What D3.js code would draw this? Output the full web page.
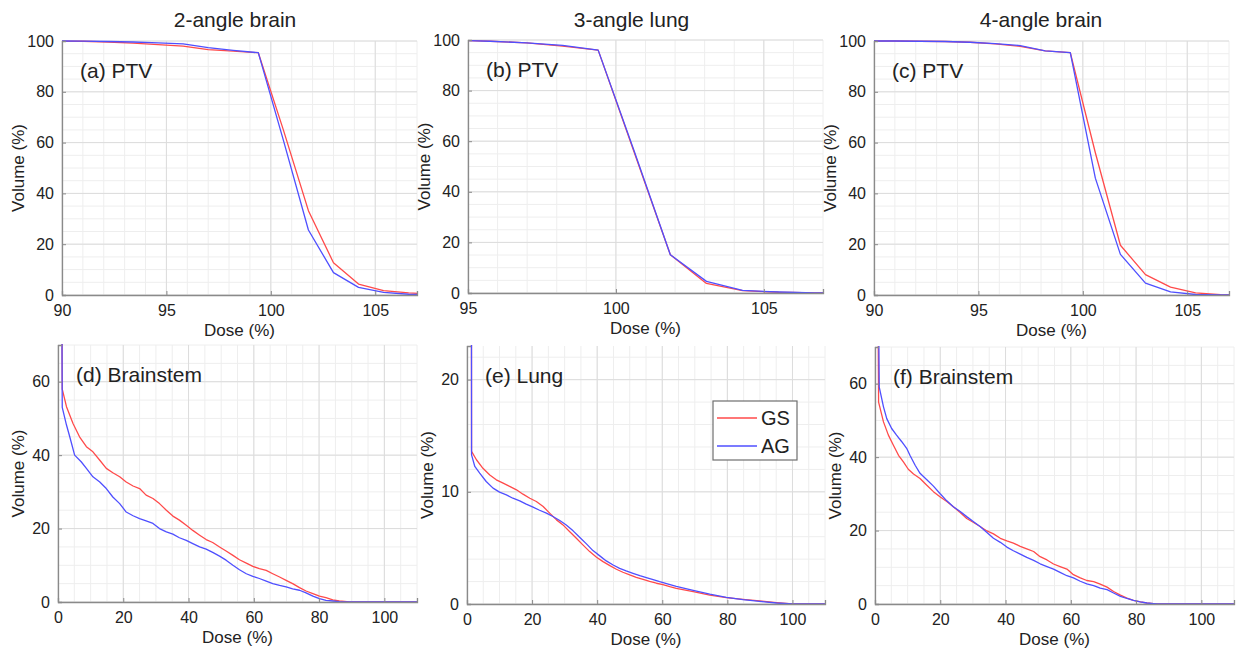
<!DOCTYPE html>
<html>
<head>
<meta charset="utf-8">
<script src="https://cdn.jsdelivr.net/npm/d3@7/dist/d3.min.js"></script>
<style>
  html, body { margin: 0; padding: 0; background: #fff; }
  svg { display: block; }
  text { font-family: "Liberation Sans", Arial, sans-serif; fill: #222; }
</style>
</head>
<body>
<svg id="chart" width="1242" height="658"></svg>
<script>
// ---------------- DATA ----------------
const seriesNames = ["GS", "AG"];
const columnTitles = ["2-angle brain", "3-angle lung", "4-angle brain"];
const panelLabels = ["(a) PTV", "(b) PTV", "(c) PTV", "(d) Brainstem", "(e) Lung", "(f) Brainstem"];

// (a) 2-angle brain PTV
const doseA = [89.8, 91.0, 92.2, 93.4, 94.6, 95.8, 97.0, 98.2, 99.4, 100.6, 101.8, 103.0, 104.2, 105.4, 106.6, 107.8];
const gsA   = [100, 99.9, 99.6, 99.2, 98.6, 98.0, 96.6, 96.0, 95.4, 65.0, 33.2, 12.7, 4.3, 1.7, 0.8, 0.4];
const agA   = [100, 99.95, 99.8, 99.6, 99.3, 98.9, 97.4, 96.3, 95.4, 61.0, 25.6, 8.8, 3.0, 1.0, 0.3, 0.1];

// (b) 3-angle lung PTV
const doseB = [94.54, 95.76, 96.98, 98.2, 99.4, 100.62, 101.84, 103.06, 104.28, 105.5, 106.72, 107.94];
const gsB   = [99.9, 99.5, 98.9, 97.6, 96.0, 55.5, 15.1, 3.8, 0.9, 0.3, 0.05, 0];
const agB   = [99.9, 99.5, 98.9, 97.9, 96.0, 56.0, 15.1, 4.6, 1.0, 0.4, 0.05, 0];

// (c) 4-angle brain PTV
const doseC = [89.8, 91.0, 92.2, 93.4, 94.6, 95.8, 97.0, 98.2, 99.4, 100.6, 101.8, 103.0, 104.2, 105.4, 106.6, 107.8];
const gsC   = [100, 100, 99.9, 99.8, 99.5, 98.9, 97.9, 96.1, 95.4, 56.0, 19.6, 8.0, 3.1, 0.8, 0.1, 0];
const agC   = [100, 100, 99.9, 99.8, 99.5, 99.0, 98.2, 96.1, 95.4, 46.0, 16.0, 4.7, 1.2, 0.2, 0.05, 0];

// (d) 2-angle brain, Brainstem
const doseDgs = [1.1, 1.3, 2.6, 4.6, 6.6, 8.7, 10.7, 12.8, 14.8, 16.8, 18.9, 20.9, 23, 25, 27, 29.1, 31.1, 33.2, 35.2, 37.2, 39.3, 41.3, 43.4, 45.4, 47.4, 49.5, 51.5, 53.6, 55.6, 57.7, 59.7, 61.7, 63.8, 65.8, 67.9, 69.9, 71.9, 74, 76, 78.1, 80.1, 82.1, 84.2, 86.2, 89.3, 110];
const gsD     = [100, 58.0, 53.2, 48.6, 45, 42.3, 40.9, 38.6, 36.4, 35.2, 34.1, 32.7, 31.6, 30.9, 29.1, 28.2, 26.8, 25, 23.4, 22.3, 20.9, 19.5, 18.2, 17.0, 16.2, 15, 13.9, 12.7, 11.5, 10.6, 9.7, 9.1, 8.6, 7.7, 6.8, 5.9, 5.0, 3.9, 3.0, 2.3, 1.6, 1.2, 0.6, 0.27, 0, 0];
const doseDag = [1.1, 1.3, 2.6, 3.6, 5.1, 7.1, 8.7, 10.7, 12.8, 14.8, 16.8, 18.9, 20.9, 23, 25, 27, 29.1, 31.1, 33.2, 35.2, 37.2, 39.3, 41.3, 43.4, 45.4, 47.4, 49.5, 51.5, 53.6, 55.6, 57.7, 59.7, 61.7, 63.8, 65.8, 67.9, 69.9, 71.9, 74, 76, 78.1, 80.1, 82.1, 84.2, 86.2, 88.3, 110];
const agD     = [100, 53.0, 48.2, 45, 40, 38.2, 36.4, 34.1, 32.7, 30.9, 28.6, 26.8, 24.5, 23.5, 22.7, 22.1, 21.4, 20, 19.1, 18.5, 17.5, 16.8, 15.9, 15, 14.4, 13.5, 12.5, 11.4, 10, 8.8, 7.7, 7.0, 6.4, 5.7, 5, 4.5, 4.1, 3.6, 3.2, 2.5, 1.6, 0.9, 0.45, 0.27, 0.1, 0, 0];

// (e) 3-angle lung, Lung
const doseEgs = [1.2, 1.4, 2.9, 4.9, 7.0, 9.0, 11.1, 13.1, 15.2, 17.2, 19.3, 21.3, 23.4, 25.4, 27.5, 29.5, 31.5, 33.6, 35.6, 37.7, 39.8, 41.8, 43.9, 45.9, 47.9, 50.0, 52.0, 54.1, 56.1, 58.2, 60.2, 62.3, 64.3, 69.5, 74.6, 79.7, 84.8, 89.9, 95.1, 100, 110];
const gsE     = [100, 13.6, 12.86, 12.1, 11.5, 11.07, 10.77, 10.48, 10.18, 9.79, 9.43, 9.14, 8.69, 8.1, 7.5, 7.05, 6.46, 5.86, 5.27, 4.67, 4.17, 3.78, 3.42, 3.1, 2.83, 2.59, 2.38, 2.2, 2.02, 1.85, 1.73, 1.55, 1.4, 1.1, 0.8, 0.57, 0.42, 0.27, 0.12, 0, 0];
const doseEag = [1.2, 1.4, 2.4, 3.9, 5.9, 8.0, 10.0, 12.1, 14.1, 16.2, 18.2, 20.3, 22.3, 24.4, 26.4, 28.5, 30.5, 32.6, 34.6, 36.7, 38.7, 40.8, 42.8, 44.9, 46.9, 48.9, 51.0, 53.1, 55.1, 57.2, 59.2, 61.3, 64.3, 69.5, 74.6, 79.7, 84.8, 89.9, 95.1, 100, 110];
const agE     = [100, 13.3, 12.26, 11.67, 10.92, 10.33, 9.97, 9.73, 9.43, 9.2, 8.9, 8.63, 8.36, 8.1, 7.8, 7.44, 7.05, 6.52, 5.95, 5.36, 4.76, 4.29, 3.84, 3.48, 3.18, 2.95, 2.74, 2.53, 2.35, 2.17, 1.99, 1.82, 1.58, 1.22, 0.89, 0.6, 0.39, 0.24, 0.09, 0, 0];

// (f) 4-angle brain, Brainstem
const doseFgs = [0.8, 1.1, 2.6, 4.1, 5.6, 7.2, 8.7, 10.2, 11.8, 13.8, 15.8, 17.9, 19.9, 22, 24, 26.1, 28.1, 30.2, 32.2, 34.3, 36.3, 38.4, 40.4, 42.4, 44.5, 46.5, 48.6, 50.6, 52.7, 54.7, 56.7, 58.8, 60.8, 62.9, 64.9, 67, 69, 71.1, 73.1, 75.2, 77.2, 79.2, 81.3, 83.3, 85.4, 86.9, 110];
const gsF     = [100, 55, 49.6, 46, 43.3, 40.5, 38.7, 36.7, 35.4, 34.2, 32.4, 30.6, 29.2, 27.9, 26.5, 24.9, 23.3, 22.2, 21.1, 19.9, 19.1, 17.9, 17.2, 16.6, 15.7, 15, 14.3, 12.9, 12, 10.9, 10.2, 9.5, 8.0, 7.1, 6.4, 6.1, 5.4, 4.6, 3.4, 2.4, 1.6, 1.0, 0.6, 0.27, 0.09, 0, 0];
const doseFag = [0.9, 1.3, 2.6, 3.6, 5.1, 6.6, 8.2, 9.7, 10.7, 12.3, 13.8, 15.8, 17.9, 19.9, 22, 24, 26.1, 28.1, 30.2, 32.2, 34.3, 36.3, 38.4, 40.4, 42.4, 44.5, 46.5, 48.6, 50.6, 52.7, 54.7, 56.7, 58.8, 60.8, 62.9, 64.9, 67, 69, 71.1, 73.1, 75.2, 77.2, 79.2, 81.3, 83.3, 85.4, 86.4, 110];
const agF     = [100, 59.1, 53.7, 50.5, 47.8, 46, 44.2, 42.4, 40.5, 37.8, 35.6, 33.9, 32.1, 30.1, 28.1, 26.5, 25.2, 23.8, 22.4, 21.1, 19.5, 17.9, 16.8, 15.5, 14.5, 13.6, 12.7, 11.9, 10.95, 10.2, 9.5, 8.6, 7.7, 7.1, 6.2, 5.5, 5.0, 4.3, 3.9, 3.0, 2.1, 1.5, 1.0, 0.6, 0.27, 0.09, 0, 0];

// axis tick values
const ptvBrainXTicks = [90, 95, 100, 105];
const ptvLungXTicks  = [95, 100, 105];
const ptvYTicks      = [0, 20, 40, 60, 80, 100];
const oarXTicks      = [0, 20, 40, 60, 80, 100];
const brainstemYTicks = [0, 20, 40, 60];
const lungYTicks     = [0, 10, 20];

// ---------------- STYLE / LAYOUT ----------------
const colors = { GS: "#ff4a4a", AG: "#4f4fff" };
const panels = [
  { box: [62, 417, 41, 295],  xd: [90, 107], yd: [0, 100], xt: ptvBrainXTicks, yt: ptvYTicks, xm: 1, ym: 5,
    gs: [doseA, gsA], ag: [doseA, agA], title: columnTitles[0], titleDx: -4.5, ylab: 38, label: panelLabels[0] },
  { box: [468, 823, 40, 293], xd: [95, 107], yd: [0, 100], xt: ptvLungXTicks, yt: ptvYTicks, xm: 1, ym: 5,
    gs: [doseB, gsB], ag: [doseB, agB], title: columnTitles[1], titleDx: -14, ylab: 38, label: panelLabels[1] },
  { box: [874, 1229, 41, 295], xd: [90, 107], yd: [0, 100], xt: ptvBrainXTicks, yt: ptvYTicks, xm: 1, ym: 5,
    gs: [doseC, gsC], ag: [doseC, agC], title: columnTitles[2], titleDx: -10.5, ylab: 38, label: panelLabels[2] },
  { box: [58, 417, 345, 602], xd: [0, 110], yd: [0, 70], xt: oarXTicks, yt: brainstemYTicks, xm: 5, ym: 5,
    gs: [doseDgs, gsD], ag: [doseDag, agD], ylab: 34, label: panelLabels[3] },
  { box: [467, 825, 346, 604], xd: [0, 110], yd: [0, 23], xt: oarXTicks, yt: lungYTicks, xm: 5, ym: 2,
    gs: [doseEgs, gsE], ag: [doseEag, agE], ylab: 34, label: panelLabels[4], legend: true },
  { box: [875, 1234, 347, 604], xd: [0, 110], yd: [0, 70], xt: oarXTicks, yt: brainstemYTicks, xm: 5, ym: 5,
    gs: [doseFgs, gsF], ag: [doseFag, agF], ylab: 34, label: panelLabels[5] }
];

const svg = d3.select("#chart");
const defs = svg.append("defs");

function range(a, b, step) {
  const out = [];
  const start = Math.ceil(a / step - 1e-9) * step;
  for (let v = start; v <= b + 1e-9; v += step) out.push(+v.toFixed(6));
  return out;
}

panels.forEach((p, i) => {
  const [L, R, T, B] = p.box;
  const x = d3.scaleLinear().domain(p.xd).range([L, R]);
  const y = d3.scaleLinear().domain(p.yd).range([B, T]);
  const g = svg.append("g");

  // minor grid
  const gx = g.append("g");
  range(p.xd[0], p.xd[1], p.xm).forEach(v => {
    gx.append("line").attr("x1", x(v)).attr("x2", x(v)).attr("y1", T).attr("y2", B)
      .attr("stroke", "#eeeeee").attr("stroke-width", 1);
  });
  range(p.yd[0], p.yd[1], p.ym).forEach(v => {
    gx.append("line").attr("x1", L).attr("x2", R).attr("y1", y(v)).attr("y2", y(v))
      .attr("stroke", "#eeeeee").attr("stroke-width", 1);
  });
  // major grid
  p.xt.forEach(v => {
    gx.append("line").attr("x1", x(v)).attr("x2", x(v)).attr("y1", T).attr("y2", B)
      .attr("stroke", "#dcdcdc").attr("stroke-width", 1);
  });
  p.yt.forEach(v => {
    gx.append("line").attr("x1", L).attr("x2", R).attr("y1", y(v)).attr("y2", y(v))
      .attr("stroke", "#dcdcdc").attr("stroke-width", 1);
  });

  // clip
  const cid = "clip" + i;
  defs.append("clipPath").attr("id", cid).append("rect")
    .attr("x", L).attr("y", T - 1).attr("width", R - L + 1).attr("height", B - T + 2);

  const line = d3.line().x(d => x(d[0])).y(d => y(d[1]));
  const curves = g.append("g").attr("clip-path", `url(#${cid})`);
  [["GS", p.gs], ["AG", p.ag]].forEach(([name, arr]) => {
    const pts = arr[0].map((d, k) => [d, arr[1][k]]);
    curves.append("path").attr("d", line(pts)).attr("fill", "none")
      .attr("stroke", colors[name]).attr("stroke-width", 1.3).attr("stroke-linejoin", "round");
  });

  // axes
  const xAxis = d3.axisBottom(x).tickValues(p.xt).tickSize(-4).tickPadding(10).tickFormat(d3.format("d"));
  const yAxis = d3.axisLeft(y).tickValues(p.yt).tickSize(-4).tickPadding(8).tickFormat(d3.format("d"));
  const ax = g.append("g").attr("transform", `translate(0,${B})`).call(xAxis);
  const ay = g.append("g").attr("transform", `translate(${L},0)`).call(yAxis);
  [ax, ay].forEach(a => {
    a.select(".domain").attr("stroke", "#8a8a8a").attr("stroke-width", 1.3);
    a.selectAll(".tick line").attr("stroke", "#8a8a8a");
    a.selectAll(".tick text").attr("font-size", 16).attr("fill", "#222")
      .style("font-family", "'Liberation Sans', Arial, sans-serif");
  });

  // axis labels
  g.append("text").attr("x", (L + R) / 2).attr("y", B + 41)
    .attr("text-anchor", "middle").attr("font-size", 17).text("Dose (%)");
  g.append("text")
    .attr("transform", `translate(${L - p.ylab},${(T + B) / 2}) rotate(-90)`)
    .attr("text-anchor", "middle").attr("font-size", 17).text("Volume (%)");

  // panel label
  g.append("text").attr("x", L + 18).attr("y", T + 37).attr("font-size", 21).text(p.label);

  // title
  if (p.title) {
    g.append("text").attr("x", (L + R) / 2 + p.titleDx).attr("y", 27)
      .attr("text-anchor", "middle").attr("font-size", 21).text(p.title);
  }

  // legend
  if (p.legend) {
    const lg = g.append("g").attr("transform", "translate(713,401)");
    lg.append("rect").attr("width", 84).attr("height", 59)
      .attr("fill", "#fff").attr("stroke", "#6e6e6e").attr("stroke-width", 1.2);
    seriesNames.forEach((n, k) => {
      const yy = 17 + k * 28;
      lg.append("line").attr("x1", 4).attr("x2", 44).attr("y1", yy).attr("y2", yy)
        .attr("stroke", colors[n]).attr("stroke-width", 1.3);
      lg.append("text").attr("x", 48).attr("y", yy + 7).attr("font-size", 20).text(n);
    });
  }
});
</script>
</body>
</html>
